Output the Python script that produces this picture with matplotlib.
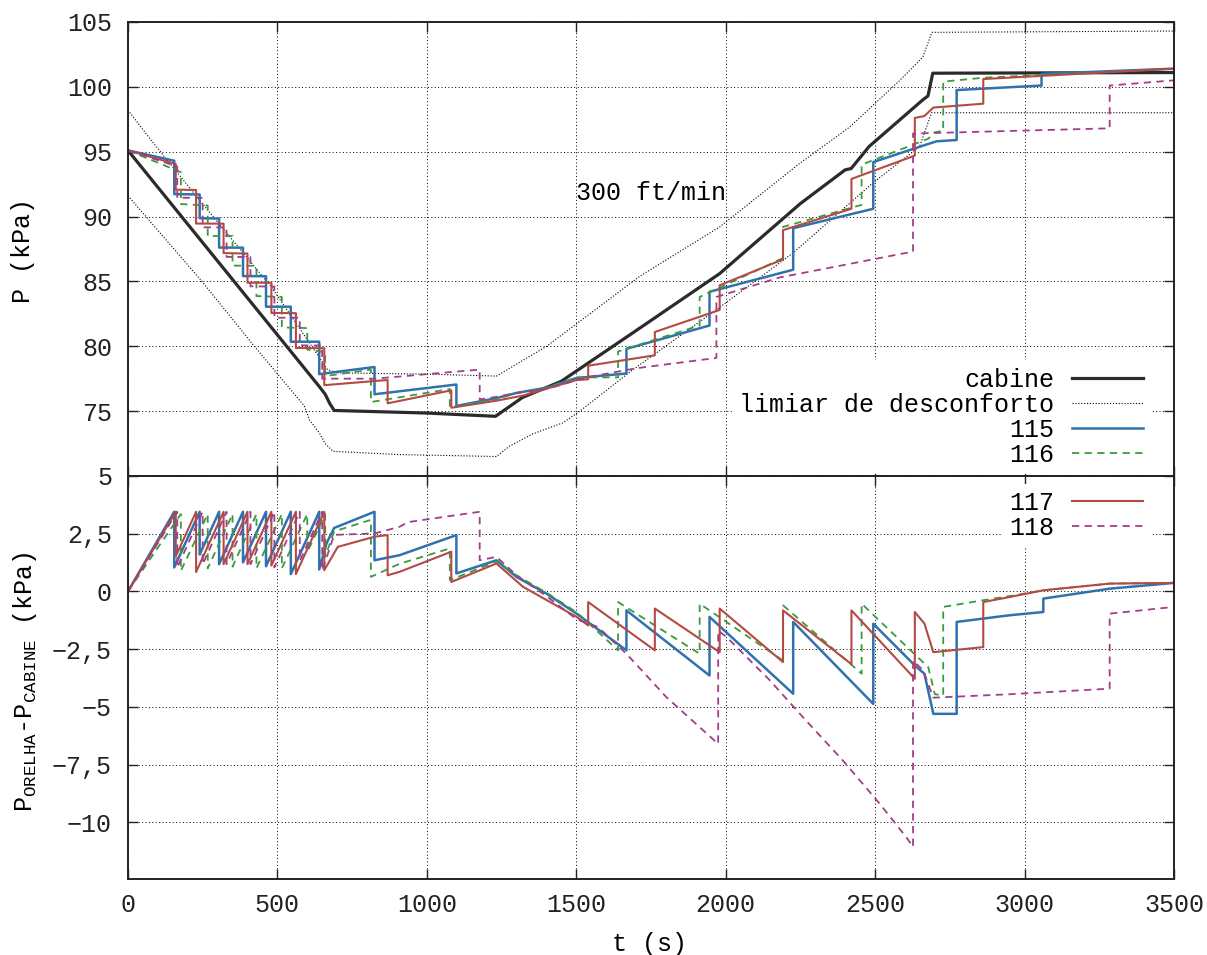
import matplotlib
matplotlib.use("Agg")
import matplotlib.pyplot as plt

plt.rcParams["font.family"] = ["Liberation Mono", "DejaVu Sans Mono"]
plt.rcParams["font.size"] = 18
plt.rcParams["mathtext.fontset"] = "custom"
plt.rcParams["mathtext.rm"] = "Liberation Mono"

# --- pressão na cabine (kPa) ---
cabine_t = [0, 640, 660, 675, 690, 1000, 1230, 1320, 1450, 1700, 1980, 2250,
            2400, 2420, 2480, 2660, 2677, 2693, 3500]
cabine_p = [95.1, 76.9, 76.3, 75.6, 75.05, 74.85, 74.6, 76.05, 77.3, 81.2, 85.6, 91.0,
            93.6, 93.7, 95.4, 99.0, 99.3, 101.05, 101.1]

# limiar de desconforto (superior / inferior)
lim_sup_t = [0, 77, 256, 479, 668, 700, 1000, 1233, 1401, 1713, 1980, 2248, 2415, 2583,
             2660, 2690, 3500]
lim_sup_p = [98.2, 95.9, 90.8, 84.6, 78.2, 77.95, 77.85, 77.7, 80.0, 85.4, 89.2, 94.1, 96.9,
             100.5, 102.3, 104.2, 104.3]
lim_inf_t = [0, 244, 423, 590, 608, 641, 660, 686, 909, 1233, 1277, 1355, 1456, 1512, 1690,
             1980, 2226, 2493, 2649, 2689, 3500]
lim_inf_p = [91.6, 85.1, 80.0, 75.4, 74.3, 73.3, 72.5, 71.9, 71.65, 71.5, 72.3, 73.25, 74.1,
             75.0, 78.2, 83.0, 87.2, 92.6, 95.4, 98.0, 98.0]

# --- pressão na orelha (painel superior) ---
p115_t = [0, 155, 155, 240, 240, 305, 305, 385, 385, 462, 462, 545, 545, 640, 640, 825, 825,
          1099, 1099, 1233, 1300, 1400, 1501, 1668, 1668, 1946, 1946, 2226, 2226, 2494, 2494,
          2639, 2665, 2706, 2773, 2773, 3057, 3057, 3500]
p115_p = [95.1, 94.3, 91.73, 91.7, 89.87, 89.85, 87.61, 87.6, 85.41, 85.4, 83.05, 83.05, 80.35,
          80.35, 77.85, 78.4, 76.3, 77.05, 75.4, 76.0, 76.4, 76.8, 77.55, 77.9, 79.8, 81.6,
          84.2, 85.9, 89.1, 90.6, 94.2, 95.3, 95.5, 95.8, 95.9, 99.75, 100.1, 101.0, 101.4]

p116_t = [0, 177, 177, 267, 267, 350, 350, 430, 430, 515, 515, 600, 600, 660, 660, 813, 813,
          1077, 1077, 1233, 1300, 1400, 1501, 1640, 1640, 1913, 1913, 2192, 2192, 2455, 2455,
          2678, 2700, 2728, 2728, 2862, 3500]
p116_p = [95.1, 93.42, 90.96, 90.85, 88.5, 88.5, 86.22, 86.2, 83.87, 83.8, 81.45, 81.4, 79.74,
          79.55, 77.7, 78.2, 75.7, 76.7, 75.3, 75.9, 76.4, 76.8, 77.6, 77.6, 79.6, 81.6, 83.8,
          86.8, 89.2, 90.9, 94.0, 96.0, 96.5, 96.6, 100.4, 100.7, 101.4]

p117_t = [0, 160, 160, 228, 228, 320, 320, 400, 400, 480, 480, 562, 562, 657, 657, 869, 869,
          1082, 1082, 1233, 1322, 1501, 1540, 1540, 1763, 1763, 1980, 1980, 2192, 2192, 2421,
          2421, 2633, 2633, 2665, 2695, 2862, 2862, 3500]
p117_p = [95.1, 94.05, 92.07, 92.05, 89.46, 89.45, 87.18, 87.15, 84.9, 84.9, 82.57, 82.55,
          79.87, 79.85, 77.0, 77.4, 75.6, 76.6, 75.26, 75.8, 76.2, 77.4, 77.45, 78.5, 79.3,
          81.1, 82.8, 84.7, 86.7, 88.95, 90.6, 92.9, 94.7, 97.6, 97.75, 98.4, 98.7, 100.6, 101.4]

p118_t = [0, 165, 165, 250, 250, 330, 330, 410, 410, 490, 490, 575, 575, 650, 650, 825, 1177,
          1177, 1233, 1300, 1400, 1534, 1700, 1969, 1969, 2180, 2627, 2627, 3285, 3285, 3500]
p118_p = [95.1, 93.86, 91.45, 91.44, 89.17, 89.16, 86.89, 86.88, 84.62, 84.6, 82.2, 82.2,
          80.07, 80.05, 77.5, 77.5, 78.2, 75.9, 76.1, 76.4, 76.7, 77.6, 78.3, 79.1, 83.8,
          85.3, 87.3, 96.4, 96.8, 100.1, 100.5]

# --- P_orelha - P_cabine (painel inferior) ---
d115_t = [0, 155, 155, 240, 240, 305, 305, 385, 385, 462, 462, 545, 545, 640, 640, 665, 690,
          825, 825, 909, 1099, 1099, 1233, 1300, 1400, 1501, 1668, 1668, 1946, 1946, 2226,
          2226, 2494, 2494, 2639, 2665, 2695, 2773, 2773, 2951, 3063, 3063, 3285, 3500]
d115_d = [0, 3.45, 1.04, 3.45, 1.6, 3.45, 1.18, 3.45, 1.26, 3.45, 1.09, 3.45, 0.75, 3.45,
          0.95, 2.1, 2.75, 3.45, 1.35, 1.57, 2.44, 0.78, 1.35, 0.63, -0.09, -0.96, -2.55,
          -0.82, -3.64, -1.1, -4.43, -1.32, -4.87, -1.4, -3.28, -3.56, -5.3, -5.3, -1.32,
          -1.03, -0.89, -0.31, 0.12, 0.37]

d116_t = [0, 177, 177, 267, 267, 350, 350, 430, 430, 515, 515, 600, 600, 660, 660, 690, 813,
          813, 909, 1077, 1077, 1233, 1300, 1400, 1501, 1640, 1640, 1913, 1913, 2192, 2192,
          2455, 2455, 2678, 2700, 2728, 2728, 2862, 2951, 3063, 3285, 3500]
d116_d = [0, 3.35, 0.89, 3.35, 1.0, 3.35, 1.07, 3.35, 1.0, 3.35, 1.0, 3.35, 1.7, 3.35, 1.5,
          2.6, 3.1, 0.63, 1.2, 1.86, 0.49, 1.3, 0.7, -0.05, -0.9, -2.55, -0.46, -2.7, -0.53,
          -2.99, -0.6, -3.56, -0.53, -3.28, -4.45, -4.5, -0.67, -0.38, -0.2, 0.05, 0.34, 0.37]

d117_t = [0, 160, 160, 228, 228, 320, 320, 400, 400, 480, 480, 562, 562, 657, 657, 702, 825,
          869, 869, 909, 1082, 1082, 1233, 1322, 1501, 1540, 1540, 1763, 1763, 1980, 1980,
          2192, 2192, 2421, 2421, 2633, 2633, 2665, 2695, 2862, 2862, 2951, 3063, 3285, 3500]
d117_d = [0, 3.45, 1.52, 3.45, 0.84, 3.45, 1.18, 3.45, 1.18, 3.45, 1.12, 3.45, 0.75, 3.45,
          0.92, 1.93, 2.37, 2.44, 0.7, 0.85, 1.72, 0.41, 1.21, 0.2, -1.1, -1.47, -0.46, -2.55,
          -0.74, -2.63, -0.74, -3.06, -0.82, -3.15, -0.82, -3.78, -0.89, -1.39, -2.63, -2.41,
          -0.46, -0.24, 0.05, 0.34, 0.37]

d118_t = [0, 165, 165, 250, 250, 330, 330, 410, 410, 490, 490, 575, 575, 650, 650, 690, 825,
          909, 936, 1177, 1177, 1233, 1300, 1400, 1501, 1573, 1668, 1802, 1975, 1975, 2003,
          2148, 2259, 2393, 2516, 2605, 2627, 2627, 2660, 2695, 2951, 3285, 3285, 3500]
d118_d = [0, 3.45, 1.04, 3.45, 1.18, 3.45, 1.18, 3.45, 1.18, 3.45, 1.04, 3.45, 1.32, 3.45,
          0.9, 2.45, 2.51, 2.8, 3.0, 3.45, 1.35, 1.5, 0.7, -0.2, -1.2, -1.54, -2.7, -4.58,
          -6.6, -1.7, -1.97, -3.85, -5.45, -7.33, -9.2, -10.65, -11.06, -3.0, -3.4, -4.6,
          -4.45, -4.21, -0.96, -0.67]

x_ticks = [0, 500, 1000, 1500, 2000, 2500, 3000, 3500]
y1_ticks = [75, 80, 85, 90, 95, 100, 105]
y1_labels = ["75", "80", "85", "90", "95", "100", "105"]
y2_ticks = [5, 2.5, 0, -2.5, -5, -7.5, -10]
y2_labels = ["5", "2,5", "0", "\u22122,5", "\u22125", "\u22127,5", "\u221210"]

C115, C116, C117, C118 = "#2f72ae", "#3b9a3b", "#b44a44", "#a33d86"
DOT = (0, (1, 1.6))
DASH = (0, (4, 3))


def style_axes(ax, yticks, ylabels):
    ax.set_xlim(0, 3500)
    ax.set_xticks(x_ticks)
    ax.set_yticks(yticks)
    ax.set_yticklabels(ylabels)
    ax.grid(True, color="black", linestyle=(0, (1, 2.5)), linewidth=0.7)
    ax.tick_params(direction="in", length=7, width=1, top=True, right=True, colors="#222")
    ax.tick_params(axis="y", pad=11.5)
    ax.tick_params(axis="x", pad=10)
    for s in ax.spines.values():
        s.set_linewidth(1.4)
        s.set_color("#222")


fig = plt.figure(figsize=(12.07, 9.55), dpi=100)
ax1 = fig.add_axes([0.1060, 0.5016, 0.8666, 0.4754])
ax2 = fig.add_axes([0.1060, 0.0796, 0.8666, 0.4220])

# painel superior
h_cab, = ax1.plot(cabine_t, cabine_p, color="#2b2b2b", lw=2.3, label="cabine")
h_lim, = ax1.plot(lim_sup_t, lim_sup_p, color="black", lw=0.8, ls=DOT,
                  label="limiar de desconforto")
ax1.plot(lim_inf_t, lim_inf_p, color="black", lw=0.8, ls=DOT)
h115, = ax1.plot(p115_t, p115_p, color=C115, lw=1.8, label="115")
h116, = ax1.plot(p116_t, p116_p, color=C116, lw=1.3, ls=DASH, label="116")
ax1.plot(p117_t, p117_p, color=C117, lw=1.5)
ax1.plot(p118_t, p118_p, color=C118, lw=1.3, ls=DASH)
ax1.set_ylim(70, 105)
style_axes(ax1, y1_ticks, y1_labels)
ax1.tick_params(labelbottom=False)
ax1.text(1500, 91.8, "300 ft/min", ha="left", va="center")

# painel inferior
ax2.plot(d115_t, d115_d, color=C115, lw=1.8)
ax2.plot(d116_t, d116_d, color=C116, lw=1.3, ls=DASH)
h117, = ax2.plot(d117_t, d117_d, color=C117, lw=1.5, label="117")
h118, = ax2.plot(d118_t, d118_d, color=C118, lw=1.3, ls=DASH, label="118")
ax2.set_ylim(-12.45, 5)
style_axes(ax2, y2_ticks, y2_labels)

key = dict(frameon=True, framealpha=1, facecolor="white", edgecolor="none", fancybox=False,
           markerfirst=False, handlelength=2.85, handletextpad=0.7, labelspacing=0.04,
           borderpad=0.3, borderaxespad=0, bbox_transform=fig.transFigure, loc="upper right")
ax1.legend(handles=[h_cab, h_lim, h115, h116], bbox_to_anchor=(0.9532, 0.6230), **key)
ax2.legend(handles=[h117, h118], bbox_to_anchor=(0.9532, 0.4937), **key)

fig.text(0.0191, 0.7372, "P (kPa)", rotation=90, ha="center", va="center")
fig.text(0.0207, 0.2864,
         r"$\mathrm{P}_{\mathrm{ORELHA}}$-$\mathrm{P}_{\mathrm{CABINE}}$ (kPa)",
         rotation=90, ha="center", va="center")
fig.text(0.5385, 0.0115, "t (s)", ha="center", va="center")

fig.savefig("out.png", dpi=100)
